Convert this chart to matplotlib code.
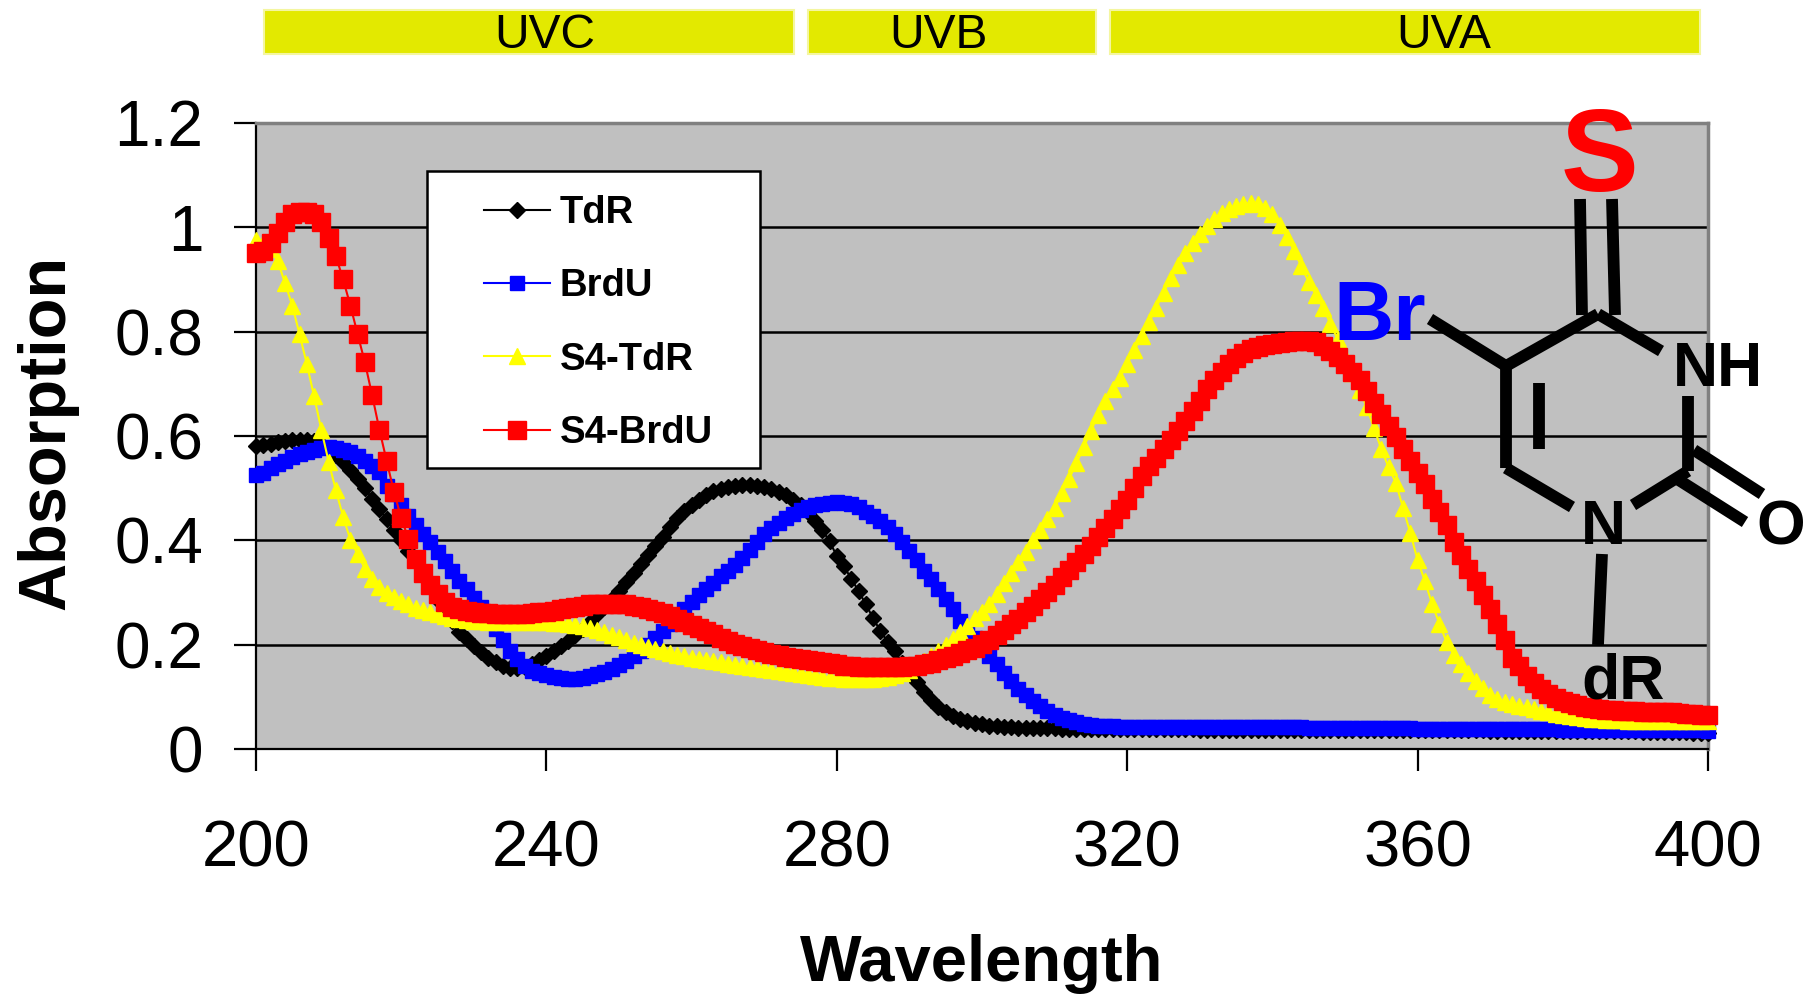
import numpy as np
import matplotlib
matplotlib.use("Agg")
import matplotlib.pyplot as plt
from matplotlib.lines import Line2D
from matplotlib.patches import Rectangle

plt.rcParams['font.family'] = ['Liberation Sans', 'DejaVu Sans']

W, H = 1816, 994

wavelength = np.arange(200, 401)

tdr = [.580, .582, .585, .588, .590, .592, .593, .592, .590, .584,
       .575, .563, .550, .535, .518, .500, .480, .460, .440, .420,
       .400, .380, .360, .340, .312, .285, .265, .245, .225, .210,
       .197, .185, .175, .167, .160, .156, .155, .157, .162, .170,
       .178, .187, .197, .207, .218, .230, .243, .258, .273, .288,
       .303, .320, .338, .355, .372, .390, .407, .425, .442, .456,
       .468, .478, .487, .494, .499, .503, .505, .506, .506, .505,
       .502, .498, .493, .486, .477, .467, .454, .438, .420, .398,
       .370, .350, .326, .303, .277, .251, .226, .206, .187, .165,
       .145, .128, .110, .094, .080, .071, .063, .058, .053, .050,
       .047, .045, .044, .043, .042, .041, .041, .040, .040, .040,
       .040, .039, .039, .039, .039, .039, .038, .038, .038, .038,
       .038, .038, .038, .038, .038, .038, .038, .038, .038, .038,
       .037, .037, .037, .037, .037, .037, .037, .037, .037, .037,
       .036, .036, .036, .036, .036, .036, .036, .036, .036, .036,
       .036, .036, .036, .036, .036, .036, .036, .036, .036, .036,
       .036, .036, .036, .036, .036, .036, .036, .036, .036, .036,
       .035, .035, .035, .035, .035, .035, .035, .035, .035, .035,
       .034, .034, .034, .034, .034, .034, .034, .034, .034, .034,
       .034, .033, .033, .033, .033, .032, .032, .032, .031, .031,
       .030]

brdu = [.525, .530, .538, .546, .553, .560, .565, .570, .574, .577,
        .578, .577, .574, .569, .562, .553, .543, .531, .505, .488,
        .468, .447, .430, .413, .396, .378, .360, .342, .323, .306,
        .290, .272, .252, .230, .208, .188, .172, .160, .150, .145,
        .141, .138, .136, .135, .135, .136, .139, .143, .148, .154,
        .161, .169, .178, .188, .200, .213, .226, .240, .254, .268,
        .282, .295, .307, .319, .331, .342, .353, .366, .381, .397,
        .412, .423, .433, .442, .450, .458, .463, .467, .470, .472,
        .473, .472, .469, .463, .455, .447, .437, .425, .412, .396,
        .380, .362, .342, .325, .306, .288, .268, .246, .228, .212,
        .197, .178, .162, .146, .130, .115, .103, .092, .082, .073,
        .066, .060, .055, .051, .048, .046, .045, .044, .044, .043,
        .043, .043, .043, .043, .043, .043, .043, .043, .043, .043,
        .043, .043, .043, .043, .043, .043, .043, .043, .043, .043,
        .042, .042, .042, .042, .042, .041, .041, .041, .041, .041,
        .040, .040, .040, .040, .040, .040, .040, .040, .040, .040,
        .039, .039, .039, .039, .039, .039, .039, .039, .039, .039,
        .038, .038, .038, .038, .038, .038, .038, .038, .038, .038,
        .037, .037, .037, .037, .037, .037, .037, .037, .037, .037,
        .037, .037, .036, .036, .036, .036, .036, .036, .036, .036,
        .035]

s4_tdr = [.975, .970, .958, .935, .893, .850, .795, .738, .676, .612,
          .551, .496, .445, .401, .373, .346, .326, .310, .300, .291,
          .284, .277, .271, .266, .262, .258, .255, .252, .250, .248,
          .246, .245, .244, .243, .243, .243, .243, .243, .243, .243,
          .243, .242, .241, .240, .238, .235, .232, .228, .224, .219,
          .214, .209, .204, .200, .196, .192, .188, .184, .181, .178,
          .175, .173, .170, .168, .166, .163, .161, .159, .157, .155,
          .153, .151, .149, .147, .145, .143, .141, .140, .138, .137,
          .136, .135, .135, .135, .135, .135, .136, .138, .141, .145,
          .152, .160, .168, .178, .188, .199, .211, .224, .236, .252,
          .262, .278, .298, .318, .338, .358, .378, .400, .420, .441,
          .462, .490, .518, .548, .578, .610, .640, .668, .690, .712,
          .738, .765, .792, .818, .846, .875, .902, .928, .950, .970,
          .988, 1.003, 1.016, 1.028, 1.036, 1.041, 1.044, 1.046, 1.044, 1.038,
          1.025, 1.005, .982, .955, .925, .895, .870, .845, .815, .785,
          .752, .720, .688, .655, .615, .575, .540, .510, .462, .414,
          .362, .322, .278, .240, .205, .180, .162, .145, .130, .116,
          .103, .096, .091, .087, .083, .080, .076, .073, .070, .067,
          .065, .063, .061, .060, .058, .057, .056, .055, .055, .054,
          .054, .054, .054, .054, .054, .054, .054, .054, .054, .054,
          .054]

s4_brdu = [.950, .955, .970, .990, 1.010, 1.025, 1.030, 1.030, 1.025, 1.010,
           .980, .945, .900, .850, .795, .741, .678, .612, .552, .493,
           .443, .403, .365, .338, .314, .298, .282, .273, .268, .265,
           .262, .261, .260, .259, .258, .258, .258, .259, .260, .262,
           .263, .265, .268, .270, .273, .275, .277, .278, .278, .278,
           .278, .277, .275, .272, .269, .265, .260, .255, .250, .244,
           .238, .232, .226, .220, .213, .207, .202, .197, .193, .189,
           .186, .183, .180, .177, .175, .172, .170, .168, .166, .164,
           .162, .160, .159, .158, .158, .157, .157, .157, .157, .158,
           .159, .160, .162, .164, .170, .175, .179, .184, .189, .194,
           .201, .209, .218, .228, .239, .250, .262, .274, .287, .301,
           .315, .329, .344, .358, .374, .390, .407, .424, .441, .460,
           .478, .500, .524, .542, .558, .575, .592, .610, .628, .648,
           .668, .690, .708, .722, .738, .750, .760, .766, .771, .775,
           .776, .778, .780, .782, .783, .782, .780, .772, .763, .752,
           .738, .722, .707, .686, .664, .643, .620, .598, .575, .552,
           .530, .508, .480, .455, .430, .397, .372, .345, .322, .296,
           .268, .240, .208, .175, .160, .140, .127, .115, .105, .097,
           .092, .088, .084, .081, .078, .076, .075, .074, .073, .072,
           .072, .071, .071, .071, .070, .070, .069, .068, .067, .066,
           .065]

xticks = [200, 240, 280, 320, 360, 400]
yticks = [0, 0.2, 0.4, 0.6, 0.8, 1, 1.2]
ytick_labels = ['0', '0.2', '0.4', '0.6', '0.8', '1', '1.2']
bands = ['UVC', 'UVB', 'UVA']


# everything outside the plot is placed in image pixels, y going down
def fx(px):
    return px / W


def fy(py):
    return 1 - py / H


fig = plt.figure(figsize=(W / 100, H / 100), dpi=100, facecolor='white')
ax = fig.add_axes([fx(256), fy(749), (1708 - 256) / W, (749 - 123) / H])
ax.set_facecolor('#c0c0c0')

ax.plot(wavelength, tdr, color='black', lw=1.5, marker='D', ms=8, mec='black', clip_on=False, zorder=3, label='TdR')
ax.plot(wavelength, brdu, color='#0000ff', lw=1.5, marker='s', ms=10.5, mec='#0000ff', clip_on=False, zorder=4, label='BrdU')
ax.plot(wavelength, s4_tdr, color='#ffff00', lw=1.5, marker='^', ms=11.5, mec='#ffff00', clip_on=False, zorder=5, label='S4-TdR')
ax.plot(wavelength, s4_brdu, color='#ff0000', lw=1.5, marker='s', ms=12.5, mec='#ff0000', clip_on=False, zorder=6, label='S4-BrdU')

ax.set_xlim(200, 400)
ax.set_ylim(0, 1.2)
ax.set_xticks(xticks)
ax.set_yticks(yticks)
ax.set_yticklabels(ytick_labels)
ax.tick_params(axis='x', length=16, width=1.6, pad=35, labelsize=47)
ax.tick_params(axis='y', length=16, width=1.6, pad=22, labelsize=46)
ax.grid(axis='y', color='black', lw=1.8, zorder=1)
ax.set_axisbelow(True)
for side in ['top', 'right']:
    ax.spines[side].set_color('#808080')
    ax.spines[side].set_linewidth(2.5)
for side in ['left', 'bottom']:
    ax.spines[side].set_color('black')
    ax.spines[side].set_linewidth(1.6)

ax.set_xlabel('Wavelength', fontsize=47, fontweight='bold', va='center')
ax.set_ylabel('Absorption', fontsize=48, fontweight='bold', va='center')
ax.xaxis.set_label_coords(fx(982), fy(964), transform=fig.transFigure)
ax.yaxis.set_label_coords(fx(47), fy(432), transform=fig.transFigure)

# legend box is sized on its own, the legend inside has no frame
ax.add_patch(Rectangle((fx(427), fy(468)), (760 - 427) / W, (468 - 171) / H, transform=fig.transFigure,
                       facecolor='white', edgecolor='black', lw=1.8, clip_on=False, zorder=2.5))
leg = ax.legend(loc='upper left', bbox_to_anchor=(fx(484), fy(195)), bbox_transform=fig.transFigure,
                borderaxespad=0, frameon=False, prop={'size': 27.5, 'weight': 'bold'},
                handlelength=1.72, handletextpad=0.26, labelspacing=0.98, borderpad=0, numpoints=1)
leg.set_zorder(2.6)

# UV band strips above the plot
band_edges = [(264, 794), (808, 1096), (1110, 1700)]
band_text_x = [545, 938, 1444]
for name, (left, right), tx in zip(bands, band_edges, band_text_x):
    fig.add_artist(Rectangle((fx(left), fy(54)), (right - left) / W, 44 / H, transform=fig.transFigure,
                             facecolor='#e3e900', edgecolor='#f4f6a0', lw=1.5))
    fig.text(fx(tx), fy(35), name, fontsize=34.5, ha='center', va='center', color='black')


# molecule drawn on top, coordinates in image pixels
def bond(x1, y1, x2, y2, lw=8.5):
    fig.add_artist(Line2D([fx(x1), fx(x2)], [fy(y1), fy(y2)], color='black', lw=lw,
                          transform=fig.transFigure, solid_capstyle='butt', zorder=10))


bond(1580, 199, 1582, 315)
bond(1612, 199, 1615, 315)
bond(1506, 366, 1598, 314)
bond(1598, 314, 1661, 351)
bond(1506, 366, 1506, 468)
bond(1506, 468, 1572, 507)
bond(1633, 505, 1688, 471)
bond(1688, 471, 1688, 396)
bond(1539, 383, 1539, 449)
bond(1694, 450, 1762, 494)
bond(1674, 477, 1745, 522)
bond(1430, 319, 1506, 366)
bond(1602, 554, 1598, 645)

fig.text(fx(1600), fy(160), 'S', color='#ff0000', fontsize=84, fontweight='bold', ha='center', va='center', zorder=11)
fig.text(fx(1380), fy(318), 'Br', color='#0000ff', fontsize=60, fontweight='bold', ha='center', va='center', zorder=11)
fig.text(fx(1718), fy(370), 'NH', color='black', fontsize=45, fontweight='bold', ha='center', va='center', zorder=11)
fig.text(fx(1603), fy(527), 'N', color='black', fontsize=45, fontweight='bold', ha='center', va='center', zorder=11)
fig.text(fx(1781), fy(528), 'O', color='black', fontsize=45, fontweight='bold', ha='center', va='center', zorder=11)
fig.text(fx(1623), fy(682), 'dR', color='black', fontsize=45, fontweight='bold', ha='center', va='center', zorder=11)

fig.savefig('out.png', dpi=100)
